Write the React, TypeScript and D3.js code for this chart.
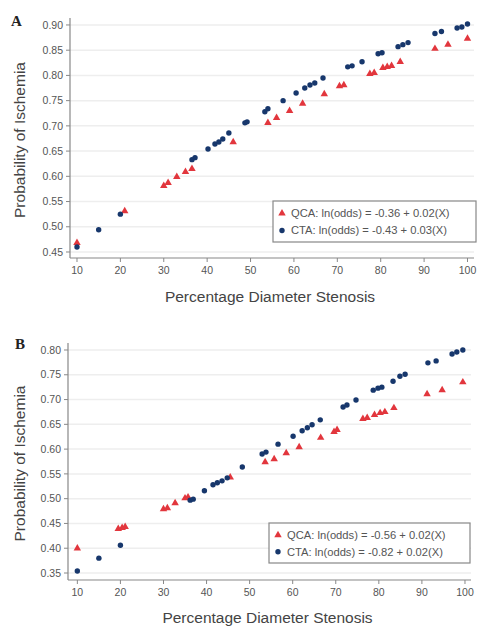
import React from "react";
import * as d3 from "d3";

// ---------- DATA ----------
const xTicks = [10, 20, 30, 40, 50, 60, 70, 80, 90, 100];
const yTicksA = [0.45, 0.5, 0.55, 0.6, 0.65, 0.7, 0.75, 0.8, 0.85, 0.9];
const yTicksB = [0.35, 0.4, 0.45, 0.5, 0.55, 0.6, 0.65, 0.7, 0.75, 0.8];

const aQcaX = [10, 21, 30, 31, 33, 35, 36.5, 46, 54, 56, 59, 62, 67, 70.5, 71.5, 77.5, 78.5, 80.5, 81.5, 82.5, 84.5, 92.5, 95.5, 100];
const aQcaY = [0.468, 0.531, 0.581, 0.587, 0.599, 0.609, 0.615, 0.668, 0.706, 0.716, 0.73, 0.744, 0.763, 0.779, 0.781, 0.803, 0.805, 0.815, 0.817, 0.819, 0.827, 0.853, 0.861, 0.873];
const aCtaX = [10, 15, 20, 36.5, 37.2, 40.2, 41.8, 42.7, 43.6, 45, 48.7, 49.2, 53.3, 54, 57.5, 60.5, 62.5, 63.7, 64.8, 66.7, 72.4, 73.4, 75.7, 79.4, 80.3, 84, 85.1, 86.3, 92.5, 94, 97.6, 98.7, 100];
const aCtaY = [0.46, 0.494, 0.525, 0.633, 0.637, 0.654, 0.664, 0.668, 0.674, 0.686, 0.706, 0.708, 0.728, 0.734, 0.75, 0.765, 0.775, 0.781, 0.785, 0.795, 0.817, 0.819, 0.827, 0.843, 0.845, 0.857, 0.861, 0.865, 0.883, 0.887, 0.894, 0.896, 0.902];

const bQcaX = [10, 19.5, 20.4, 21.1, 30, 30.9, 32.7, 35, 35.7, 45.5, 53.6, 55.7, 58.5, 61.5, 66.5, 69.6, 70.3, 76.3, 77.3, 79, 80.3, 81.4, 83.5, 91.2, 94.7, 99.5];
const bQcaY = [0.4, 0.439, 0.441, 0.443, 0.479, 0.481, 0.491, 0.501, 0.503, 0.543, 0.574, 0.58, 0.592, 0.604, 0.623, 0.635, 0.639, 0.661, 0.663, 0.669, 0.673, 0.675, 0.683, 0.711, 0.719, 0.735];
const bCtaX = [10, 15, 20, 36.2, 36.9, 39.5, 41.5, 42.5, 43.6, 44.8, 48.3, 52.9, 53.8, 56.6, 60.1, 62.2, 63.4, 64.5, 66.4, 71.7, 72.6, 74.7, 78.7, 79.8, 80.7, 83.3, 84.9, 86.1, 91.4, 93.3, 97, 98.1, 99.5];
const bCtaY = [0.354, 0.38, 0.406, 0.497, 0.499, 0.516, 0.528, 0.532, 0.536, 0.542, 0.564, 0.59, 0.594, 0.61, 0.626, 0.637, 0.643, 0.649, 0.659, 0.685, 0.689, 0.699, 0.719, 0.723, 0.725, 0.737, 0.747, 0.751, 0.774, 0.778, 0.792, 0.796, 0.8];

const legendA = ["QCA: ln(odds) = -0.36 + 0.02(X)", "CTA: ln(odds) = -0.43 + 0.03(X)"];
const legendB = ["QCA: ln(odds) = -0.56 + 0.02(X)", "CTA: ln(odds) = -0.82 + 0.02(X)"];

const xTitle = "Percentage Diameter Stenosis";
const yTitle = "Probability of Ischemia";

// ---------- STYLE ----------
const RED = "#e2363d";
const BLUE = "#17376c";
const FONT = "Liberation Sans, Arial, sans-serif";

type PanelProps = {
  letter: string;
  letterPos: [number, number];
  left: number;
  right: number;
  top: number;
  bottom: number;
  xDom: [number, number];
  yDom: [number, number];
  yTicks: number[];
  qx: number[];
  qy: number[];
  cx: number[];
  cy: number[];
  legend: string[];
  legendBox: [number, number, number, number];
  xTitleY: number;
  yTitleX: number;
};

function Panel(p: PanelProps) {
  const x = d3.scaleLinear().domain(p.xDom).range([p.left, p.right]);
  const y = d3.scaleLinear().domain(p.yDom).range([p.bottom, p.top]);
  const tri = d3.symbol().type(d3.symbolTriangle).size(24)();
  const [lx, ly, lw, lh] = p.legendBox;
  return (
    <g fontFamily={FONT}>
      <text x={p.letterPos[0]} y={p.letterPos[1]} fontFamily="Liberation Serif, Times New Roman, serif" fontWeight="bold" fontSize={15} fill="#222">
        {p.letter}
      </text>
      {p.yTicks.map((t) => (
        <line key={"g" + t} x1={p.left} x2={p.right} y1={y(t)} y2={y(t)} stroke="#eeeeee" strokeWidth={1.5} />
      ))}
      <line x1={p.left} x2={p.left} y1={p.top} y2={p.bottom} stroke="#888" strokeWidth={1.2} />
      {p.yTicks.map((t) => (
        <g key={"y" + t}>
          <line x1={p.left - 4} x2={p.left} y1={y(t)} y2={y(t)} stroke="#888" strokeWidth={1} />
          <text x={p.left - 7} y={y(t)} dy="0.35em" textAnchor="end" fontSize={10.5} fill="#555">
            {d3.format(".2f")(t)}
          </text>
        </g>
      ))}
      <line x1={p.left} x2={p.right} y1={p.bottom} y2={p.bottom} stroke="#888" strokeWidth={1.2} />
      {xTicks.map((t) => (
        <g key={"x" + t}>
          <line x1={x(t)} x2={x(t)} y1={p.bottom} y2={p.bottom + 4} stroke="#888" strokeWidth={1} />
          <text x={x(t)} y={p.bottom + 16} textAnchor="middle" fontSize={10.5} fill="#555">
            {t}
          </text>
        </g>
      ))}
      <text x={(p.left + p.right) / 2 - 2} y={p.xTitleY} textAnchor="middle" fontSize={15.5} fill="#444">
        {xTitle}
      </text>
      <text
        transform={`translate(${p.yTitleX},${(p.top + p.bottom) / 2 + 2}) rotate(-90)`}
        textAnchor="middle"
        fontSize={15.5}
        fill="#444"
      >
        {yTitle}
      </text>
      {p.qx.map((v, i) => (
        <path key={"q" + i} d={tri} transform={`translate(${x(v)},${y(p.qy[i])})`} fill={RED} />
      ))}
      {p.cx.map((v, i) => (
        <circle key={"c" + i} cx={x(v)} cy={y(p.cy[i])} r={2.7} fill={BLUE} />
      ))}
      <rect x={lx} y={ly} width={lw} height={lh} fill="#fff" stroke="#888" strokeWidth={1.2} />
      <path d={tri} transform={`translate(${lx + 9},${ly + lh * 0.3})`} fill={RED} />
      <text x={lx + 18} y={ly + lh * 0.3} dy="0.35em" fontSize={11.2} fill="#555">
        {p.legend[0]}
      </text>
      <circle cx={lx + 9} cy={ly + lh * 0.72} r={2.7} fill={BLUE} />
      <text x={lx + 18} y={ly + lh * 0.72} dy="0.35em" fontSize={11.2} fill="#555">
        {p.legend[1]}
      </text>
    </g>
  );
}

export default function App() {
  return (
    <svg
      width={479}
      height={629}
      style={{ position: "absolute", left: 0, top: 0, background: "#fff" }}
    >
      <rect x={0} y={0} width={479} height={629} fill="#fff" />
      <Panel
        letter="A"
        letterPos={[11, 26]}
        left={70}
        right={474}
        top={18}
        bottom={258}
        xDom={[8.39, 101.5]}
        yDom={[0.4381, 0.9138]}
        yTicks={yTicksA}
        qx={aQcaX}
        qy={aQcaY}
        cx={aCtaX}
        cy={aCtaY}
        legend={legendA}
        legendBox={[273, 201, 203, 41]}
        xTitleY={302}
        yTitleX={25}
      />
      <Panel
        letter="B"
        letterPos={[15, 349]}
        left={68}
        right={471}
        top={343}
        bottom={580}
        xDom={[7.83, 101.4]}
        yDom={[0.3359, 0.8141]}
        yTicks={yTicksB}
        qx={bQcaX}
        qy={bQcaY}
        cx={bCtaX}
        cy={bCtaY}
        legend={legendB}
        legendBox={[269, 523, 201, 40]}
        xTitleY={623}
        yTitleX={25}
      />
    </svg>
  );
}
